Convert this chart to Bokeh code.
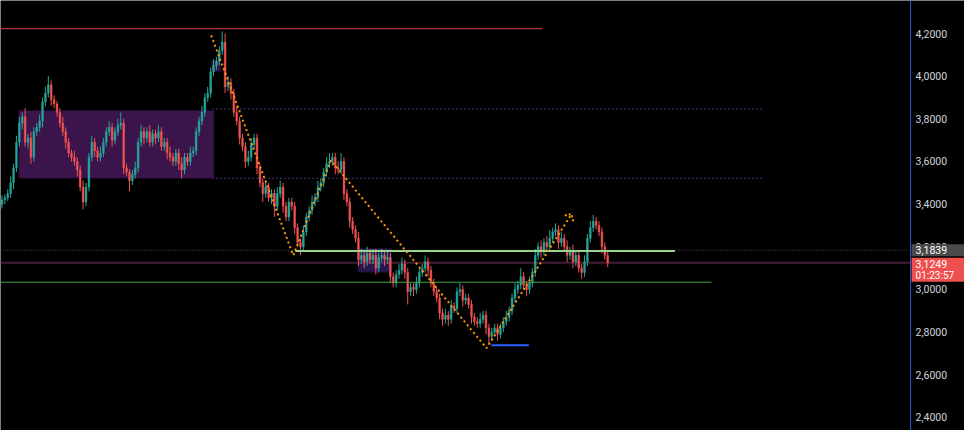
from bokeh.plotting import figure
from bokeh.models import Range1d, ColumnDataSource
from bokeh.core.properties import value
from bokeh.embed import file_html
from bokeh.resources import INLINE

# ---------------- data ----------------
first_open = 3.40
closes = [
    3.42, 3.43, 3.45, 3.50, 3.57, 3.69, 3.78, 3.81, 3.69, 3.71,
    3.62, 3.74, 3.76, 3.79, 3.88, 3.92, 3.96, 3.89, 3.87, 3.83,
    3.78, 3.74, 3.69, 3.64, 3.62, 3.60, 3.56, 3.48, 3.41, 3.48,
    3.62, 3.69, 3.65, 3.62, 3.64, 3.69, 3.74, 3.76, 3.70, 3.74,
    3.77, 3.78, 3.57, 3.55, 3.51, 3.54, 3.57, 3.69, 3.74, 3.71,
    3.74, 3.69, 3.73, 3.71, 3.74, 3.67, 3.69, 3.64, 3.62, 3.60,
    3.64, 3.59, 3.56, 3.62, 3.60, 3.64, 3.65, 3.74, 3.79, 3.83,
    3.90, 3.92, 4.02, 4.05, 4.07, 4.12, 4.16, 3.95, 3.97, 3.92,
    3.83, 3.79, 3.71, 3.67, 3.60, 3.62, 3.68, 3.71, 3.57, 3.50,
    3.45, 3.48, 3.43, 3.45, 3.39, 3.45, 3.48, 3.39, 3.34, 3.41,
    3.39, 3.29, 3.22, 3.20, 3.27, 3.34, 3.37, 3.41, 3.43, 3.48,
    3.50, 3.55, 3.59, 3.60, 3.62, 3.57, 3.56, 3.60, 3.45, 3.41,
    3.32, 3.28, 3.24, 3.14, 3.16, 3.13, 3.17, 3.14, 3.16, 3.10,
    3.15, 3.16, 3.14, 3.15, 3.06, 3.03, 3.07, 3.09, 3.12, 3.08,
    2.99, 3.01, 3.00, 3.03, 3.08, 3.10, 3.13, 3.09, 3.03, 2.99,
    2.96, 2.89, 2.86, 2.88, 2.86, 2.92, 2.91, 2.99, 3.00, 2.95,
    2.96, 2.93, 2.87, 2.85, 2.84, 2.86, 2.88, 2.82, 2.78, 2.80,
    2.82, 2.79, 2.82, 2.85, 2.87, 2.90, 2.96, 3.00, 3.02, 3.06,
    3.02, 3.00, 3.03, 3.08, 3.16, 3.20, 3.18, 3.22, 3.20, 3.24,
    3.27, 3.28, 3.22, 3.24, 3.20, 3.16, 3.18, 3.13, 3.16, 3.10,
    3.08, 3.13, 3.24, 3.29, 3.32, 3.30, 3.27, 3.20, 3.16, 3.125,
]
wick_up = [
    .02, .015, .02, .03, .02, .03, .03, .02, .04, .02,
    .03, .02, .02, .03, .02, .03, .04, .02, .02, .015,
    .02, .03, .02, .02, .015, .03, .02, .02, .03, .02,
    .02, .03, .02, .02, .03, .02, .02, .03, .02, .02,
    .03, .05, .02, .02, .015, .02, .03, .02, .03, .02,
    .02, .03, .02, .02, .03, .02, .02, .02, .03, .02,
    .02, .02, .03, .02, .02, .03, .02, .02, .02, .03,
    .02, .03, .02, .03, .02, .02, .05, .04, .03, .02,
    .02, .03, .02, .02, .02, .03, .03, .02, .02, .02,
    .02, .03, .02, .02, .02, .03, .03, .02, .02, .02,
    .02, .02, .02, .02, .03, .02, .02, .03, .02, .03,
    .02, .02, .03, .04, .02, .02, .03, .04, .02, .02,
    .02, .02, .02, .03, .03, .02, .03, .02, .03, .03,
    .02, .03, .02, .03, .02, .02, .02, .03, .03, .02,
    .02, .02, .02, .03, .02, .02, .03, .02, .02, .02,
    .02, .02, .02, .03, .02, .03, .02, .02, .03, .02,
    .02, .02, .02, .02, .02, .03, .02, .02, .02, .02,
    .02, .02, .02, .02, .03, .02, .02, .03, .02, .04,
    .02, .02, .03, .02, .03, .02, .03, .02, .03, .04,
    .02, .03, .02, .03, .02, .03, .02, .03, .02, .02,
    .02, .03, .02, .03, .03, .02, .02, .02, .02, .02,
]
wick_dn = [
    .02, .02, .015, .02, .03, .02, .02, .03, .02, .03,
    .03, .02, .02, .02, .03, .02, .02, .03, .02, .02,
    .02, .02, .03, .02, .02, .02, .03, .02, .035, .02,
    .02, .02, .03, .02, .02, .02, .02, .02, .03, .02,
    .02, .02, .03, .02, .05, .02, .02, .02, .02, .03,
    .02, .02, .02, .03, .02, .02, .02, .03, .02, .02,
    .02, .03, .04, .02, .02, .02, .02, .02, .02, .02,
    .02, .02, .02, .02, .02, .02, .02, .03, .02, .03,
    .02, .02, .03, .02, .03, .02, .02, .02, .03, .02,
    .04, .02, .02, .03, .05, .02, .02, .03, .02, .02,
    .02, .03, .02, .04, .02, .02, .02, .02, .02, .02,
    .02, .02, .02, .02, .02, .03, .02, .02, .03, .02,
    .03, .02, .02, .03, .02, .03, .02, .02, .02, .03,
    .02, .02, .03, .02, .03, .02, .02, .02, .02, .03,
    .06, .02, .03, .02, .02, .02, .02, .03, .02, .02,
    .02, .03, .03, .02, .03, .02, .02, .02, .02, .03,
    .02, .02, .03, .02, .02, .02, .02, .03, .04, .02,
    .02, .03, .02, .02, .02, .02, .02, .02, .02, .02,
    .02, .03, .02, .02, .02, .02, .03, .02, .02, .02,
    .02, .02, .03, .02, .02, .03, .02, .03, .02, .02,
    .03, .02, .02, .02, .02, .02, .02, .03, .02, .02,
]

# drawings (x in candle-index units, y in price)
resistance_level = 4.223
resistance_span = [-0.5, 186.5]
zone_levels = [3.847, 3.521]
zone_span = [72.5, 262.8]
box_left = [5.8, 72.2, 122.8]
box_right = [73.2, 75.5, 134.5]
box_top = [3.840, 4.074, 3.193]
box_bottom = [3.521, 4.022, 3.081]
box_colors = ["#3a144b", "#3a144b", "#26184f"]
support_light = 3.181
support_light_span = [101.2, 232.2]
support_dark = 3.034
support_dark_span = [-0.5, 244.8]
low_marker = 2.739
low_marker_span = [168.8, 181.8]
zigzag_x = [72.2, 100.5, 113.5, 167.2, 196.5]
zigzag_y = [4.191, 3.160, 3.605, 2.725, 3.353]
arrow_x = [194.2, 196.5, 197.2]
arrow_y = [3.347, 3.353, 3.315]
prev_price = 3.1839
last_price = 3.1249
countdown = "01:23:57"
y_ticks = [2.4, 2.6, 2.8, 3.0, 3.2, 3.4, 3.6, 3.8, 4.0, 4.2]
price_scale_x = 313.5          # where the price scale starts (candle-index units)

# ---------------- figure ----------------
W, H = 964, 430
X0, X1 = -0.5, 332.1
Y0, Y1 = 2.339, 4.3547
PX = (Y1 - Y0) / H             # one pixel in price units
XPX = (X1 - X0) / W            # one pixel in index units

n = len(closes)
idx = list(range(n))
opens = [first_open] + closes[:-1]
highs = [max(o, c) + w for o, c, w in zip(opens, closes, wick_up)]
lows = [min(o, c) - w for o, c, w in zip(opens, closes, wick_dn)]
UP, DOWN = "#26a69a", "#ef5350"
cols = [UP if c >= o else DOWN for o, c in zip(opens, closes)]
src = ColumnDataSource(dict(x=idx, h=highs, l=lows,
                            top=[max(o, c) for o, c in zip(opens, closes)],
                            bot=[min(o, c) for o, c in zip(opens, closes)],
                            col=cols))

p = figure(width=W, height=H, output_backend="svg", toolbar_location=None,
           x_axis_location=None, y_axis_location=None,
           x_range=Range1d(X0, X1), y_range=Range1d(Y0, Y1),
           background_fill_color="#000000", border_fill_color="#000000",
           min_border=0)
p.outline_line_color = None
p.grid.visible = False

# boxes
p.quad(left=box_left, right=box_right, top=box_top, bottom=box_bottom,
       fill_color=box_colors, line_color="#1a0a24", fill_alpha=1.0)

# horizontal levels
p.segment(x0=[resistance_span[0]], x1=[resistance_span[1]], y0=[resistance_level], y1=[resistance_level],
          line_color="#a83838", line_width=1.2)
p.segment(x0=[zone_span[0]] * 2, x1=[zone_span[1]] * 2, y0=zone_levels, y1=zone_levels,
          line_color="#33295e", line_width=1.2, line_dash="2 2")
p.segment(x0=[X0], x1=[price_scale_x], y0=[prev_price], y1=[prev_price],
          line_color="#555555", line_width=1, line_dash="1 2")
p.segment(x0=[X0], x1=[price_scale_x], y0=[last_price], y1=[last_price],
          line_color="#8a3a6e", line_width=2, line_dash="1 1")

# candles
p.segment(x0="x", x1="x", y0="l", y1="h", line_color="col", line_width=1, source=src)
p.vbar(x="x", width=0.6, top="top", bottom="bot", fill_color="col", line_color="col",
       line_width=0.5, source=src)

p.segment(x0=[support_light_span[0]], x1=[support_light_span[1]], y0=[support_light], y1=[support_light],
          line_color="#9ad48f", line_width=2)
p.segment(x0=[support_dark_span[0]], x1=[support_dark_span[1]], y0=[support_dark], y1=[support_dark],
          line_color="#43a047", line_width=1.2)
p.segment(x0=[low_marker_span[0]], x1=[low_marker_span[1]], y0=[low_marker], y1=[low_marker],
          line_color="#2962ff", line_width=2)

# zigzag
p.line(zigzag_x, zigzag_y, line_color="#ff9800", line_width=2, line_dash="2 3")
p.line(arrow_x, arrow_y, line_color="#ff9800", line_width=2, line_dash="2 2")

# ---------------- price scale (right) ----------------
p.segment(x0=[price_scale_x], x1=[price_scale_x], y0=[Y0], y1=[Y1],
          line_color="#2f5bd3", line_width=1)
tick_labels = [f"{t:.4f}".replace(".", ",") for t in y_ticks]
lab_x = price_scale_x + 5 * XPX
p.text(x=[lab_x] * len(y_ticks), y=y_ticks, text=tick_labels,
       text_color="#d1d4dc", text_font=value("Roboto"), text_font_size="10.5px",
       text_baseline="middle", text_align="left")

# current/previous price tags
gray_top = prev_price + 6 * PX
gray_bot = prev_price - 6 * PX
red_top = gray_bot - 1.5 * PX
red_bot = red_top - 24 * PX
p.quad(left=[price_scale_x + 1 * XPX] * 2, right=[X1] * 2,
       top=[gray_top, red_top], bottom=[gray_bot, red_bot],
       fill_color=["#4a4a4a", "#ef4f4f"], line_color=None)
p.text(x=[lab_x], y=[prev_price], text=[f"{prev_price:.4f}".replace(".", ",")],
       text_color="#ffffff", text_font=value("Roboto"), text_font_size="10.5px",
       text_baseline="middle", text_align="left")
p.text(x=[lab_x, lab_x], y=[red_top - 6.5 * PX, red_top - 18 * PX],
       text=[f"{last_price:.4f}".replace(".", ","), countdown],
       text_color="#ffffff", text_font=value("Roboto"), text_font_size=["10.5px", "10px"],
       text_baseline="middle", text_align="left")

open("out.html", "w").write(file_html(p, INLINE))
